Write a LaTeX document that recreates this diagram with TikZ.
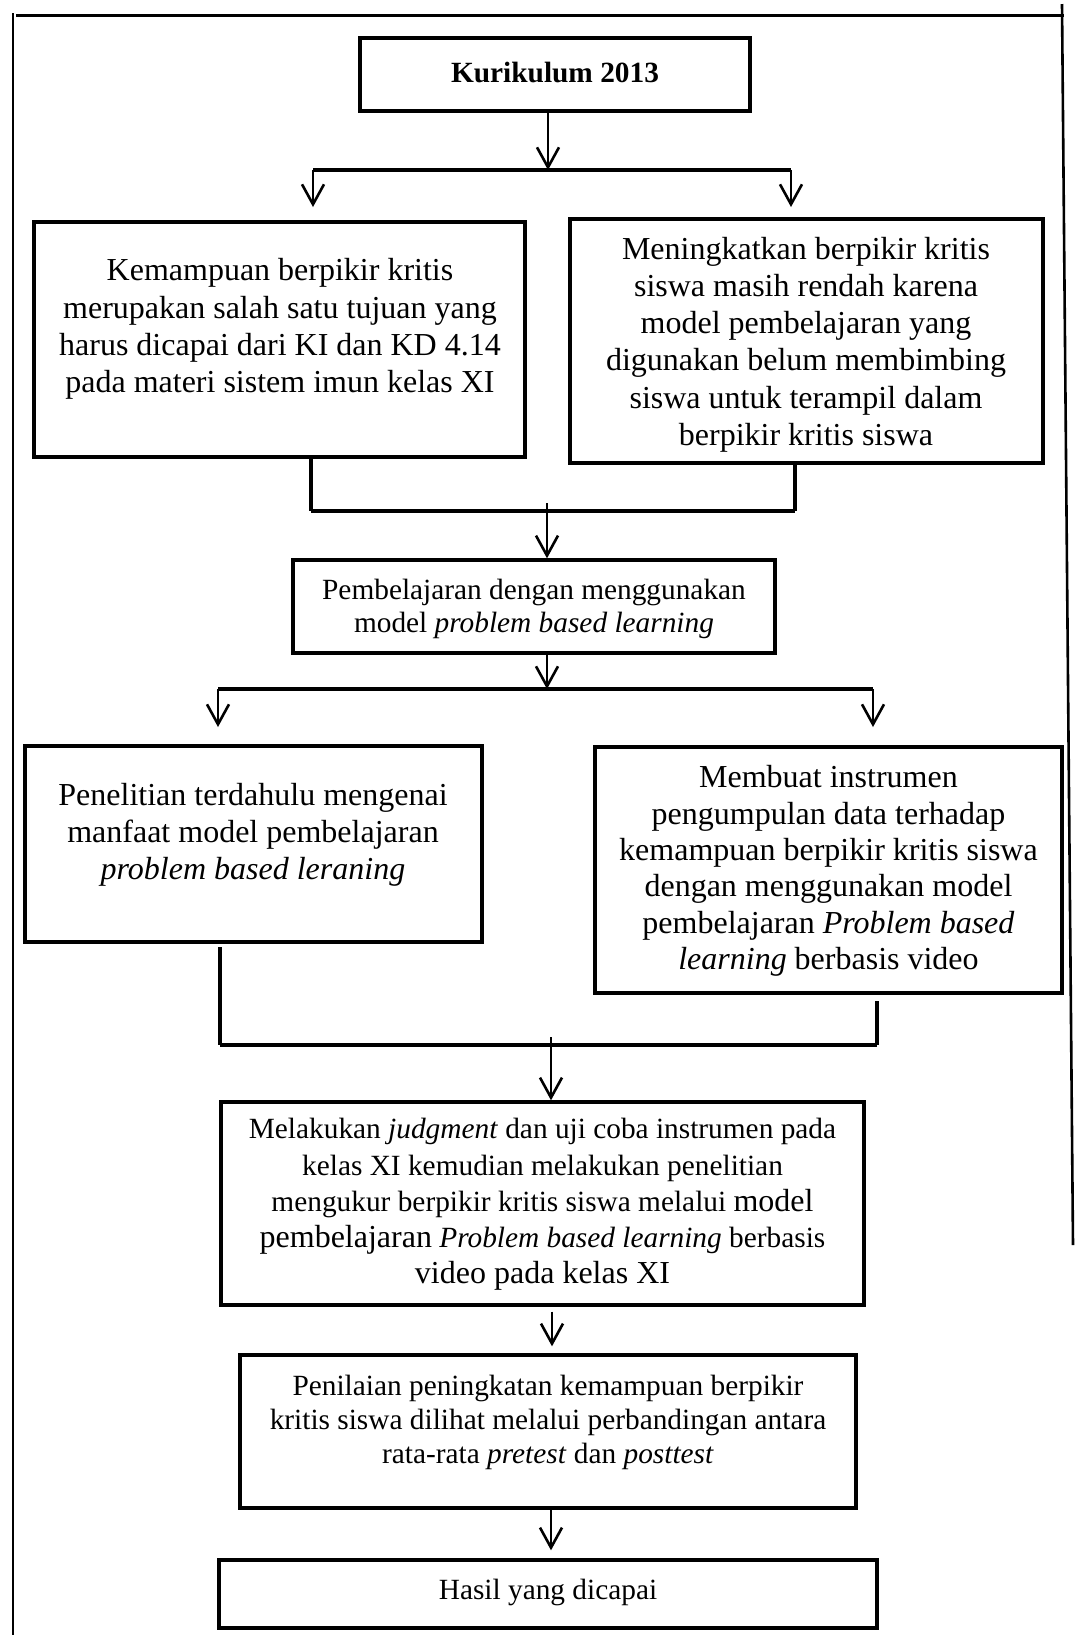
\documentclass[tikz,border=0pt]{standalone}
\usepackage{fontspec}
\setmainfont{Liberation Serif}
\usetikzlibrary{arrows.meta,fit}
\newcommand\bigfnt{\fontsize{16}{18.6}\selectfont}
\newcommand\smfnt{\fontsize{14.67}{16.5}\selectfont}
\begin{document}
\begin{tikzpicture}[x=0.5pt,y=-0.5pt,
  box/.style={draw, line width=1.7pt, inner sep=0pt},
  frame/.style={line width=1.3pt},
  arr/.style={line width=1.3pt, -{Straight Barb[length=10pt,width=11pt,line width=1.3pt]}},
  hline/.style={line width=2pt},
  stub/.style={line width=1.6pt},
  txt/.style={align=center, inner sep=0pt}]
\useasboundingbox (0,0) rectangle (1075,1635);
% outer frame
\coordinate (fT1) at (16,15.5); \coordinate (fT2) at (1064,15.5);
\coordinate (fL1) at (13,13);   \coordinate (fL2) at (13,1635);
\coordinate (fR1) at (1062,4);  \coordinate (fR2) at (1073,1245);
\draw[frame] (fT1) -- (fT2);
\draw[frame] (fL1) -- (fL2);
\draw[frame] (fR1) -- (fR2);
% boxes
\node[box, fit={(360,38) (750,111)}] (kur) {};
\node[box, fit={(34,222) (525,457)}] (lb1) {};
\node[box, fit={(570,219) (1043,463)}] (rb1) {};
\node[box, fit={(293,560) (775,653)}] (pbl) {};
\node[box, fit={(25,746) (482,942)}] (lb2) {};
\node[box, fit={(595,747) (1062,993)}] (rb2) {};
\node[box, fit={(221,1102) (864,1305)}] (jdg) {};
\node[box, fit={(240,1355) (856,1508)}] (pen) {};
\node[box, fit={(219,1560) (877,1628)}] (has) {};
% texts
\node[txt, font=\smfnt\bfseries] (kurt) at (555,72) {Kurikulum 2013};
\node[txt, font=\bigfnt] (lb1t) at (280,329) {Kemampuan berpikir kritis\\merupakan salah satu tujuan yang\\harus dicapai dari KI dan KD 4.14\\pada materi sistem imun kelas XI};
\node[txt, font=\bigfnt] (rb1t) at (806,344.5) {Meningkatkan berpikir kritis\\siswa masih rendah karena\\model pembelajaran yang\\digunakan belum membimbing\\siswa untuk terampil dalam\\berpikir kritis siswa};
\node[txt, font=\fontsize{14.67}{16.5}\selectfont] (pblt) at (534,609) {Pembelajaran dengan menggunakan\\model \textit{problem based learning}};
\node[txt, font=\fontsize{16}{18.4}\selectfont] (lb2t) at (253,834.5) {Penelitian terdahulu mengenai\\manfaat model pembelajaran\\\textit{problem based leraning}};
\node[txt, font=\fontsize{16}{18.2}\selectfont] (rb2t) at (828.5,871) {Membuat instrumen\\pengumpulan data terhadap\\kemampuan berpikir kritis siswa\\dengan menggunakan model\\pembelajaran \textit{Problem based}\\\textit{learning} berbasis video};
\node[txt, font=\fontsize{14.67}{18.1}\selectfont] (jdgt) at (542.5,1204.5) {Melakukan \textit{judgment} dan uji coba instrumen pada\\kelas XI kemudian melakukan penelitian\\mengukur berpikir kritis siswa melalui {\bigfnt model}\\{\bigfnt pembelajaran} \textit{Problem based learning} berbasis\\{\bigfnt video pada kelas XI}};
\node[txt, font=\fontsize{14.67}{17.2}\selectfont] (pent) at (548,1422.5) {Penilaian peningkatan kemampuan berpikir\\kritis siswa dilihat melalui perbandingan antara\\rata-rata \textit{pretest} dan \textit{posttest}};
\node[txt, font=\smfnt] (hast) at (548,1592) {Hasil yang dicapai};
% connectors: Kurikulum -> two boxes
\coordinate (j1) at (548,170);
\coordinate (j1l) at (313,170); \coordinate (j1r) at (791,170);
\coordinate (e1l) at (313,207); \coordinate (e1r) at (791,207);
\draw[arr] (kur.south -| j1) -- (j1);
\draw[hline] (j1l) -- (j1r);
\draw[arr] (j1l) -- (e1l);
\draw[arr] (j1r) -- (e1r);
% merge row 1
\coordinate (m1l) at (311,511); \coordinate (m1r) at (795,511);
\draw[stub] (lb1.south -| m1l) -- (m1l);
\draw[stub] (rb1.south -| m1r) -- (m1r);
\draw[hline] (m1l) -- (m1r);
\coordinate (m1a) at (547,503);
\draw[arr] (m1a) -- (pbl.north -| m1a);
% pbl -> row 2
\coordinate (j2) at (547,689);
\coordinate (j2l) at (218,689); \coordinate (j2r) at (873,689);
\coordinate (e2l) at (218,727); \coordinate (e2r) at (873,727);
\draw[arr] (pbl.south -| j2) -- (j2);
\draw[hline] (j2l) -- (j2r);
\draw[arr] (j2l) -- (e2l);
\draw[arr] (j2r) -- (e2r);
% merge row 2
\coordinate (s2l) at (220,947); \coordinate (m2l) at (220,1045);
\coordinate (s2r) at (877,1001); \coordinate (m2r) at (877,1045);
\draw[stub] (s2l) -- (m2l);
\draw[stub] (s2r) -- (m2r);
\draw[hline] (m2l) -- (m2r);
\coordinate (m2a) at (551,1037);
\draw[arr] (m2a) -- (jdg.north -| m2a);
% lower chain
\coordinate (c3) at (552,1300);
\draw[arr, shorten <=2.5pt, shorten >=3.5pt] (jdg.south -| c3) -- (pen.north -| c3);
\coordinate (c4) at (551,1500);
\draw[arr, shorten >=4pt] (pen.south -| c4) -- (has.north -| c4);
\end{tikzpicture}
\end{document}
